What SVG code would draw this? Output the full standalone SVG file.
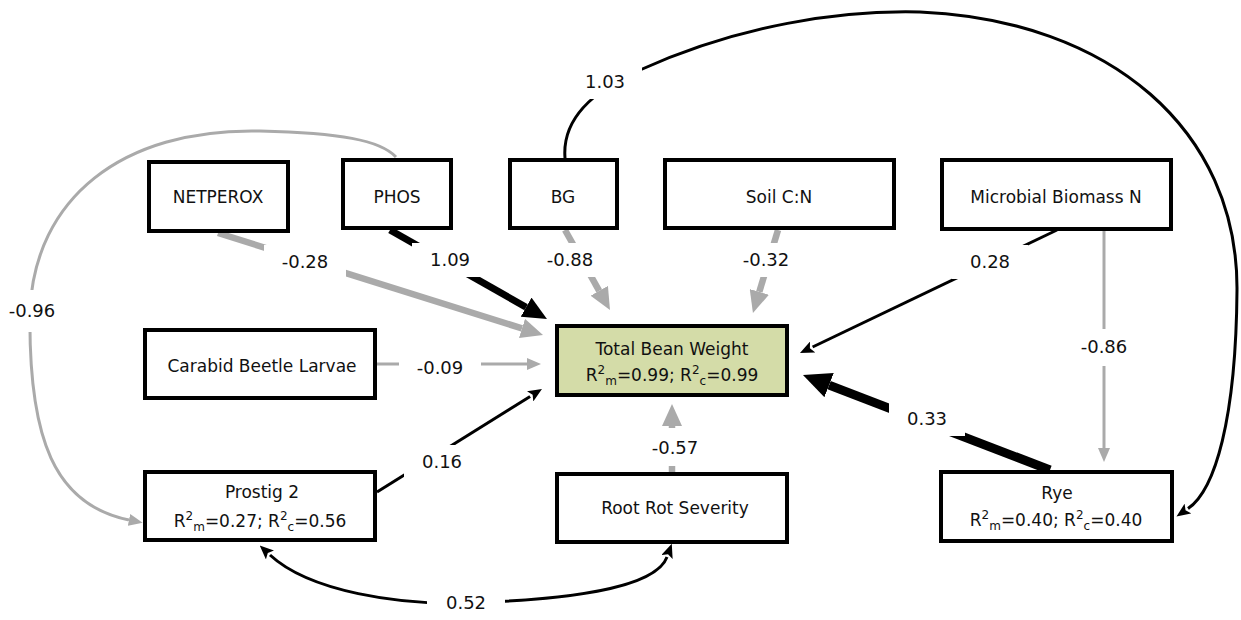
<svg xmlns="http://www.w3.org/2000/svg" width="1241" height="620" viewBox="0 0 1241 620">
  <style>
    .box { fill: #ffffff; stroke: #000000; stroke-width: 4; }
    .target { fill: #d4dca8; }
    .name { font-family: "DejaVu Sans", "Liberation Sans", sans-serif; font-size: 17px; fill: #111111; text-anchor: middle; }
    .sm { font-size: 12px; }
    .coef { font-family: "DejaVu Sans", "Liberation Sans", sans-serif; font-size: 18px; fill: #111111; text-anchor: middle; }
    .gap { fill: #ffffff; }
    .e { fill: none; stroke-linecap: butt; }
    .g { stroke: #aaaaaa; }
    .b { stroke: #000000; }
    .w3 { stroke-width: 3; }
    .w6 { stroke-width: 6.5; }
    .w7 { stroke-width: 7; }
    .w9 { stroke-width: 9; }
  </style>
  <defs>
    <marker id="aGs" markerUnits="userSpaceOnUse" markerWidth="14" markerHeight="12" viewBox="0 0 14 12" refX="0" refY="6" orient="auto">
      <path d="M0,0 L14,6 L0,12 z" fill="#aaaaaa"/>
    </marker>
    <marker id="aGl" markerUnits="userSpaceOnUse" markerWidth="22" markerHeight="20" viewBox="0 0 22 20" refX="0" refY="10" orient="auto">
      <path d="M0,0 L22,10 L0,20 z" fill="#aaaaaa"/>
    </marker>
    <marker id="aBs" markerUnits="userSpaceOnUse" markerWidth="14" markerHeight="12" viewBox="0 0 14 12" refX="0" refY="6" orient="auto-start-reverse">
      <path d="M0,0 L14,6 L0,12 L3,6 z" fill="#000000"/>
    </marker>
    <marker id="aBl" markerUnits="userSpaceOnUse" markerWidth="24" markerHeight="22" viewBox="0 0 24 22" refX="0" refY="11" orient="auto">
      <path d="M0,0 L24,11 L0,22 z" fill="#000000"/>
    </marker>
    <marker id="aBx" markerUnits="userSpaceOnUse" markerWidth="28" markerHeight="26" viewBox="0 0 28 26" refX="0" refY="13" orient="auto">
      <path d="M0,0 L28,13 L0,26 z" fill="#000000"/>
    </marker>
  </defs>

  <g id="connectors">
    <!-- paths into Total Bean Weight -->
    <path class="e g w6" d="M218,233 L522,328.4" marker-end="url(#aGl)"/>
    <path class="e b w7" d="M390,230 L526.1,307.2" marker-end="url(#aBl)"/>
    <path class="e g w6" d="M565,230 L599.2,290.8" marker-end="url(#aGl)"/>
    <path class="e g w6" d="M778,230 L759.3,291.9" marker-end="url(#aGl)"/>
    <path class="e b w3" d="M1057,230 L812.6,347" marker-end="url(#aBs)"/>
    <path class="e g w3" d="M377,364 L527,364" marker-end="url(#aGs)"/>
    <path class="e b w3" d="M377,492 L530.1,396.4" marker-end="url(#aBs)"/>
    <path class="e g w6" d="M672,472 L672,426" marker-end="url(#aGl)"/>
    <path class="e b w9" d="M1050,470 L829.1,385.1" marker-end="url(#aBx)"/>
    <!-- Microbial Biomass N to Rye -->
    <path class="e g w3" d="M1104,231 L1104,448" marker-end="url(#aGs)"/>
    <!-- BG to Rye, long arc over the top -->
    <path class="e b w3" d="M565,158 C562,120 590,92 640,70 C740,25 840,10 920,12 C1110,20 1238,130 1237,290 C1236,420 1215,490 1188,508.6" marker-end="url(#aBs)"/>
    <!-- PHOS to Prostig 2, arc round the left side -->
    <path class="e g w3" d="M396,157 C380,140 340,133 260,131 C120,128 35,200 30,310 C28,440 55,505 129,520" marker-end="url(#aGs)"/>
    <!-- Prostig 2 with Root Rot Severity, two-headed -->
    <path class="e b w3" d="M270,555 C310,592 400,605 466,603 C560,600 655,590 667,557" marker-start="url(#aBs)" marker-end="url(#aBs)"/>

    <!-- coefficient labels -->
    <g id="labels">
      <rect class="gap" x="264" y="245" width="82" height="34"/>
      <text class="coef" x="305" y="268">-0.28</text>
      <rect class="gap" x="412" y="243" width="76" height="34"/>
      <text class="coef" x="450" y="266">1.09</text>
      <rect class="gap" x="529" y="243" width="82" height="34"/>
      <text class="coef" x="570" y="266">-0.88</text>
      <rect class="gap" x="725" y="243" width="82" height="34"/>
      <text class="coef" x="766" y="266">-0.32</text>
      <rect class="gap" x="952" y="245" width="76" height="34"/>
      <text class="coef" x="990" y="268">0.28</text>
      <rect class="gap" x="568" y="65" width="74" height="34"/>
      <text class="coef" x="605" y="88">1.03</text>
      <rect class="gap" x="-10" y="290" width="84" height="42"/>
      <text class="coef" x="32" y="317">-0.96</text>
      <rect class="gap" x="399" y="351" width="82" height="34"/>
      <text class="coef" x="440" y="374">-0.09</text>
      <rect class="gap" x="404" y="445" width="76" height="34"/>
      <text class="coef" x="442" y="468">0.16</text>
      <rect class="gap" x="427" y="586" width="78" height="34"/>
      <text class="coef" x="466" y="609">0.52</text>
      <rect class="gap" x="634" y="428" width="82" height="38"/>
      <text class="coef" x="675" y="454">-0.57</text>
      <rect class="gap" x="889" y="402" width="76" height="34"/>
      <text class="coef" x="927" y="425">0.33</text>
      <rect class="gap" x="1062" y="329" width="84" height="37"/>
      <text class="coef" x="1104" y="353">-0.86</text>
    </g>
  </g>

  <g id="netperox">
    <rect class="box" x="149" y="162" width="139" height="69"/>
    <text class="name" x="218" y="203">NETPEROX</text>
  </g>
  <g id="phos">
    <rect class="box" x="343" y="160" width="108" height="68"/>
    <text class="name" x="397" y="203">PHOS</text>
  </g>
  <g id="bg">
    <rect class="box" x="510" y="160" width="107" height="68"/>
    <text class="name" x="563" y="203">BG</text>
  </g>
  <g id="soil-cn">
    <rect class="box" x="665" y="160" width="229" height="68"/>
    <text class="name" x="779" y="203">Soil C:N</text>
  </g>
  <g id="microbial-biomass-n">
    <rect class="box" x="942" y="160" width="229" height="69"/>
    <text class="name" x="1056" y="203">Microbial Biomass N</text>
  </g>
  <g id="carabid-beetle-larvae">
    <rect class="box" x="145" y="330" width="230" height="68"/>
    <text class="name" x="262" y="372">Carabid Beetle Larvae</text>
  </g>
  <g id="total-bean-weight">
    <rect class="box target" x="557" y="326" width="230" height="69"/>
    <text class="name" x="672" y="355">Total Bean Weight</text>
    <text class="name" x="672" y="381">R<tspan class="sm" dy="-7">2</tspan><tspan class="sm" dy="11">m</tspan><tspan dy="-4">=0.99; R</tspan><tspan class="sm" dy="-7">2</tspan><tspan class="sm" dy="11">c</tspan><tspan dy="-4">=0.99</tspan></text>
  </g>
  <g id="prostig-2">
    <rect class="box" x="145" y="472" width="230" height="68"/>
    <text class="name" x="262" y="498">Prostig 2</text>
    <text class="name" x="260" y="527">R<tspan class="sm" dy="-7">2</tspan><tspan class="sm" dy="11">m</tspan><tspan dy="-4">=0.27; R</tspan><tspan class="sm" dy="-7">2</tspan><tspan class="sm" dy="11">c</tspan><tspan dy="-4">=0.56</tspan></text>
  </g>
  <g id="root-rot-severity">
    <rect class="box" x="557" y="474" width="230" height="68"/>
    <text class="name" x="675" y="514">Root Rot Severity</text>
  </g>
  <g id="rye">
    <rect class="box" x="941" y="472" width="231" height="69"/>
    <text class="name" x="1057" y="499">Rye</text>
    <text class="name" x="1056" y="526">R<tspan class="sm" dy="-7">2</tspan><tspan class="sm" dy="11">m</tspan><tspan dy="-4">=0.40; R</tspan><tspan class="sm" dy="-7">2</tspan><tspan class="sm" dy="11">c</tspan><tspan dy="-4">=0.40</tspan></text>
  </g>
</svg>
